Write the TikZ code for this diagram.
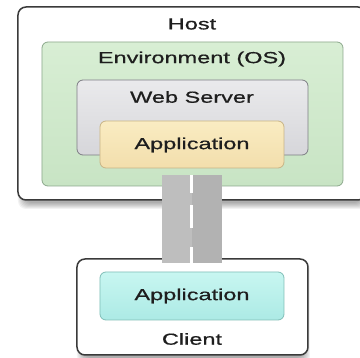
\documentclass[tikz,border=0pt]{standalone}
\usepackage{fontspec}
\setmainfont[FakeStretch=1.47,FakeBold=0.7]{Liberation Sans}
\definecolor{hostline}{RGB}{58,58,58}
\definecolor{greentop}{RGB}{216,238,212}
\definecolor{greenbot}{RGB}{200,228,196}
\definecolor{greenline}{RGB}{140,168,140}
\definecolor{webtop}{RGB}{234,234,236}
\definecolor{webbot}{RGB}{214,214,218}
\definecolor{webline}{RGB}{125,125,132}
\definecolor{apptop}{RGB}{250,236,194}
\definecolor{appbot}{RGB}{242,222,172}
\definecolor{appline}{RGB}{200,180,134}
\definecolor{cyantop}{RGB}{200,246,241}
\definecolor{cyanbot}{RGB}{172,234,229}
\definecolor{cyanline}{RGB}{128,190,183}
\definecolor{roadl}{RGB}{190,190,190}
\definecolor{roadr}{RGB}{178,178,178}
\definecolor{txt}{RGB}{30,30,30}
\tikzset{
  x=1pt, y=-1pt,
  outerbox/.style={draw=hostline, line width=1.5pt, fill=white, rounded corners=8pt, inner sep=0pt, outer sep=0pt},
  layerbox/.style={line width=0.8pt, rounded corners=6pt, inner sep=0pt, outer sep=0pt},
  label/.style={text=txt, font=\fontsize{16}{19}\selectfont, inner sep=0pt},
}
\newcommand{\softshade}[4]{%
  \foreach \i in {1,...,7}{%
    \fill[black, opacity=0.05, rounded corners=8pt]
      ({#1-\i+7},{#2-\i+9}) rectangle ({#3+\i-5},{#4+\i+2});
  }%
}
\begin{document}
\begin{tikzpicture}
\useasboundingbox (0,0) rectangle (360,358);
\clip (0,0) rectangle (360,358);
\fill[white] (0,0) rectangle (360,358);
% host
\softshade{18}{7}{366}{200}
\node[outerbox, minimum width=348pt, minimum height=193pt] (host) at (192,103.5) {};
\node[layerbox, draw=greenline, top color=greentop, bottom color=greenbot, minimum width=301pt, minimum height=144pt] (env) at (192.5,114) {};
\node[layerbox, draw=webline, top color=webtop, bottom color=webbot, minimum width=231pt, minimum height=75pt] (web) at (192.5,117.5) {};
\node[layerbox, draw=appline, top color=apptop, bottom color=appbot, minimum width=184pt, minimum height=47pt] (app) at (192,144.5) {};
% client
\softshade{77}{259}{308}{355}
\node[outerbox, minimum width=231pt, minimum height=96pt] (client) at (192.5,307) {};
\node[layerbox, draw=cyanline, top color=cyantop, bottom color=cyanbot, minimum width=184pt, minimum height=48pt] (capp) at (192,296) {};
% road
\fill[roadl] (162,175) rectangle (192,263);
\fill[roadr] (192,175) rectangle (222,263);
\foreach \a/\b in {175/193, 205/228, 247/263}{
  \fill[white] (190.5,\a) rectangle (193.5,\b);
}
% labels
\node[label] (thost) at (192,24) {Host};
\node[label] (tenv) at (192,59) {Environment (OS)};
\node[label] (tweb) at (192,97) {Web Server};
\node[label] (tapp) at (192,145) {Application};
\node[label] (tcapp) at (192,296) {Application};
\node[label] (tclient) at (192,339) {Client};
\end{tikzpicture}
\end{document}
